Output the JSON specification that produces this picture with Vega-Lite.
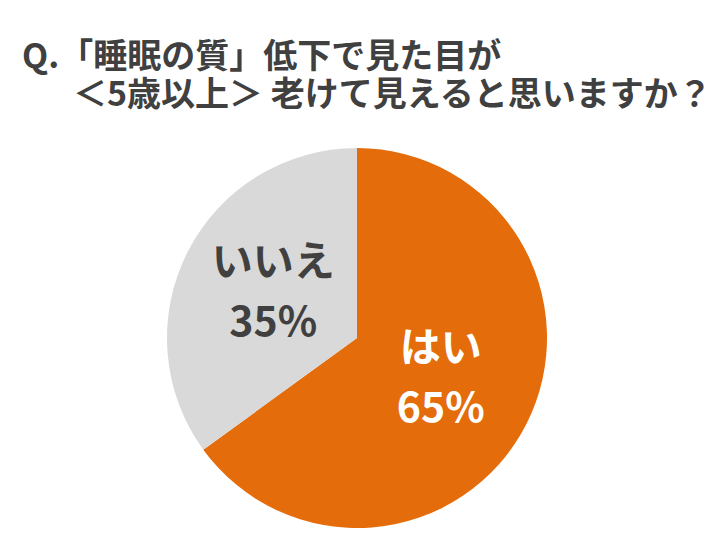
{
  "$schema": "https://vega.github.io/schema/vega-lite/v6.json",
  "width": 714,
  "height": 400,
  "autosize": "none",
  "padding": {"top": 138, "left": 0, "right": 6, "bottom": 11},
  "background": "white",
  "title": {
    "text": ["Q.「睡眠の質」低下で見た目が", "\u200B\u3000\u2002＜5歳以上＞ 老けて見えると思いますか？"],
    "anchor": "start",
    "dx": 22,
    "offset": 25,
    "font": "Noto Sans CJK JP",
    "fontSize": 34,
    "fontWeight": "bold",
    "lineHeight": 38,
    "color": "#404040"
  },
  "data": {
    "values": [
      {"answer": "はい", "value": 65, "order": 1, "label": "はい\n65%"},
      {"answer": "いいえ", "value": 35, "order": 2, "label": "いいえ\n35%"}
    ]
  },
  "encoding": {
    "theta": {"field": "value", "type": "quantitative", "stack": true},
    "order": {"field": "order", "type": "quantitative"}
  },
  "layer": [
    {
      "mark": {"type": "arc", "outerRadius": 190, "stroke": null},
      "encoding": {
        "color": {
          "field": "answer",
          "type": "nominal",
          "scale": {"domain": ["はい", "いいえ"], "range": ["#e46c0a", "#d9d9d9"]},
          "legend": null
        }
      }
    },
    {
      "mark": {
        "type": "text",
        "radius": 94,
        "dy": -31,
        "font": "Noto Sans CJK JP",
        "fontSize": 41,
        "fontWeight": "bold",
        "lineBreak": "\n",
        "lineHeight": 60,
        "align": "center",
        "baseline": "middle"
      },
      "encoding": {
        "text": {"field": "label"},
        "color": {
          "condition": {"test": "datum.answer === 'はい'", "value": "#ffffff"},
          "value": "#404040"
        }
      }
    }
  ],
  "config": {"view": {"stroke": null}}
}
